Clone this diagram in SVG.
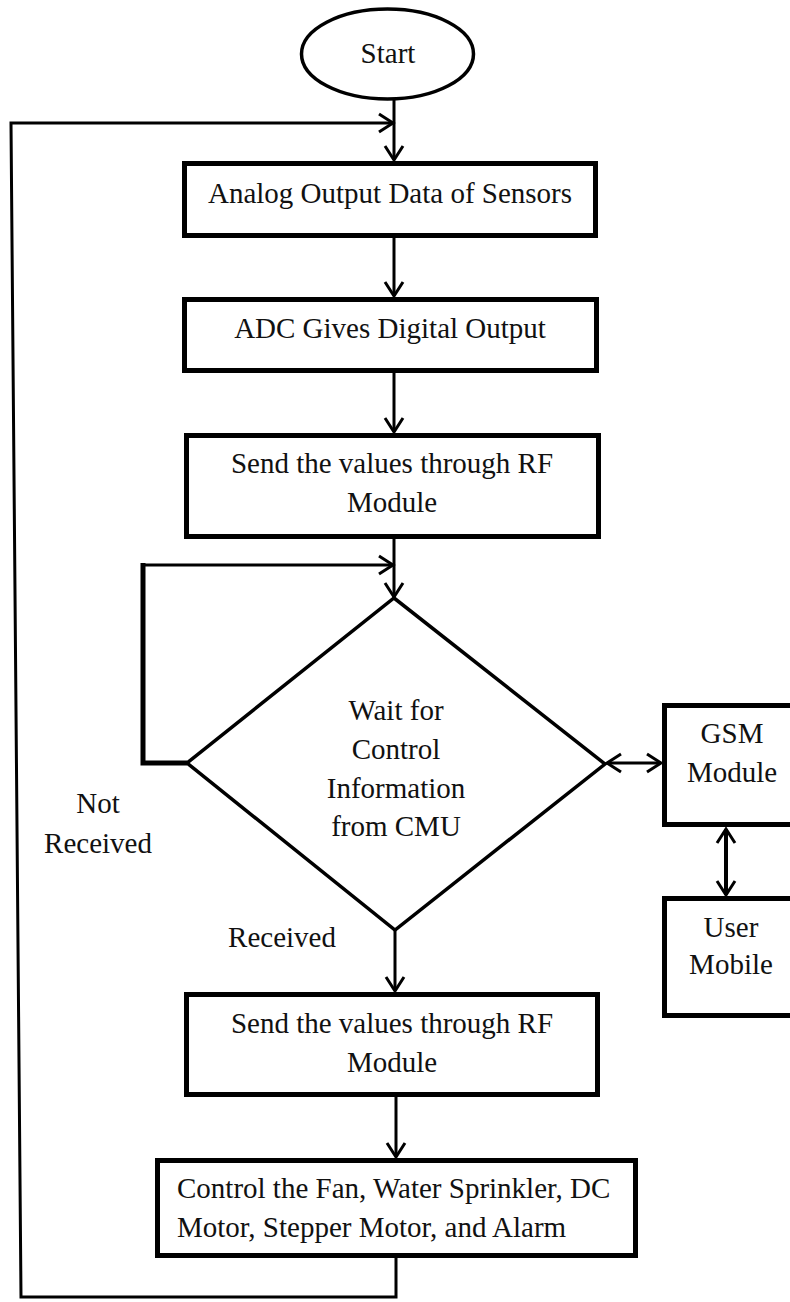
<svg xmlns="http://www.w3.org/2000/svg" width="790" height="1302" viewBox="0 0 790 1302">
<style>
.box{fill:#fff;stroke:#000;stroke-width:5}
.term{fill:#fff;stroke:#000;stroke-width:3.5}
.dec{fill:#fff;stroke:#000;stroke-width:3.5;stroke-linejoin:miter}
.t{font-family:"Liberation Serif","Times New Roman",serif;font-size:29px;fill:#111;text-anchor:middle}
.tl{font-family:"Liberation Serif","Times New Roman",serif;font-size:29px;fill:#111}
.c{fill:none;stroke:#000;stroke-width:3}
</style>
<defs>
<marker id="ah" markerUnits="userSpaceOnUse" markerWidth="20" markerHeight="22" viewBox="0 0 20 22" refX="17" refY="11" orient="auto-start-reverse">
<path d="M3,2 L17,11 L3,20" fill="none" stroke="#000" stroke-width="3"/>
</marker>
</defs>
<rect width="790" height="1302" fill="#fff"/>
<g id="connectors">
<path class="c" d="M394,100 V160" marker-end="url(#ah)"/>
<path class="c" d="M396,1258 V1297 H21 L11,123 H393" marker-end="url(#ah)"/>
<path class="c" d="M394,238 V296" marker-end="url(#ah)"/>
<path class="c" d="M394,373 V432" marker-end="url(#ah)"/>
<path class="c" d="M394,539 V597" marker-end="url(#ah)"/>
<path class="c" d="M187,763 H143 V563" style="stroke-width:5"/>
<path class="c" d="M143,565 H393" marker-end="url(#ah)"/>
<path class="c" d="M395,930 V991" marker-end="url(#ah)"/>
<path class="c" d="M396,1097 V1157" marker-end="url(#ah)"/>
<path class="c" d="M607,763 H661" marker-start="url(#ah)" marker-end="url(#ah)"/>
<path class="c" d="M726,829 V895" style="stroke-width:4" marker-start="url(#ah)" marker-end="url(#ah)"/>
</g>
<g id="start">
<ellipse class="term" cx="387.5" cy="54" rx="86" ry="45"/>
<text class="t" x="388" y="63">Start</text>
</g>
<g id="analog">
<rect class="box" x="184.5" y="163.5" width="411" height="72"/>
<text class="t" x="390" y="203">Analog Output Data of Sensors</text>
</g>
<g id="adc">
<rect class="box" x="184.5" y="299.5" width="412" height="71"/>
<text class="t" x="390" y="338">ADC Gives Digital Output</text>
</g>
<g id="send1">
<rect class="box" x="186.5" y="435.5" width="412" height="101"/>
<text class="t" x="392" y="473">Send the values through RF</text>
<text class="t" x="392" y="512">Module</text>
</g>
<g id="wait">
<polygon class="dec" points="394,598 605,764 395,930 187,763"/>
<text class="t" x="396" y="720">Wait for</text>
<text class="t" x="396" y="759">Control</text>
<text class="t" x="396" y="798">Information</text>
<text class="t" x="396" y="836">from CMU</text>
</g>
<g id="gsm">
<rect class="box" x="664.5" y="705.5" width="140" height="119"/>
<text class="t" x="732" y="743">GSM</text>
<text class="t" x="732" y="782">Module</text>
</g>
<g id="user">
<rect class="box" x="664.5" y="898.5" width="140" height="117"/>
<text class="t" x="731" y="937">User</text>
<text class="t" x="731" y="974">Mobile</text>
</g>
<g id="labels">
<text class="t" x="98" y="813">Not</text>
<text class="t" x="98" y="853">Received</text>
<text class="t" x="282" y="947">Received</text>
</g>
<g id="send2">
<rect class="box" x="186.5" y="994.5" width="411" height="100"/>
<text class="t" x="392" y="1033">Send the values through RF</text>
<text class="t" x="392" y="1072">Module</text>
</g>
<g id="control">
<rect class="box" x="157.5" y="1160.5" width="478" height="95"/>
<text class="tl" x="177" y="1198">Control the Fan, Water Sprinkler, DC</text>
<text class="tl" x="177" y="1237">Motor, Stepper Motor, and Alarm</text>
</g>
</svg>
